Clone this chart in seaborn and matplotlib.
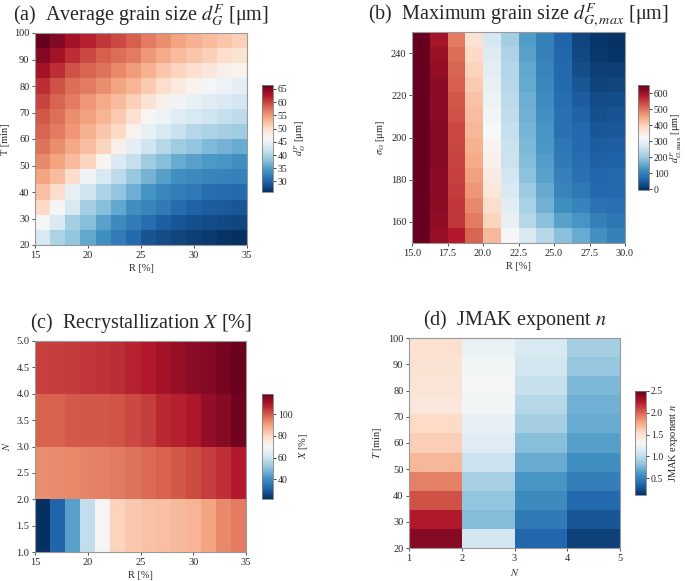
import numpy as np
import matplotlib
matplotlib.use("Agg")
import matplotlib.pyplot as plt
import seaborn as sns

# (a) average grain size d_G^F [um]; rows from T=100 (top) to T=20, cols R=15..35
grain_avg = np.array([
    [66.5, 64.9, 63.3, 62.0, 60.8, 59.6, 58.4, 56.8, 55.6, 54.4, 53.5, 52.7, 51.9, 51.1],
    [64.9, 63.3, 61.2, 59.6, 58.4, 57.6, 56.8, 55.2, 53.9, 52.7, 51.9, 51.1, 49.9, 49.1],
    [63.3, 61.2, 59.2, 58.0, 57.2, 56.0, 54.8, 53.5, 51.9, 50.7, 49.5, 48.5, 47.5, 47.1],
    [61.2, 59.2, 57.6, 56.8, 55.6, 54.4, 53.1, 51.5, 49.9, 48.3, 47.1, 45.8, 45.0, 44.2],
    [60.0, 58.0, 56.8, 55.2, 53.9, 52.7, 51.1, 49.1, 47.5, 45.4, 44.6, 43.8, 43.4, 42.6],
    [58.8, 57.4, 55.6, 54.6, 53.1, 51.5, 49.5, 46.5, 45.0, 43.8, 43.0, 42.2, 41.4, 41.0],
    [58.0, 56.8, 55.2, 53.5, 51.9, 50.3, 47.1, 44.6, 43.0, 41.8, 40.4, 39.8, 39.4, 39.0],
    [57.2, 55.6, 54.1, 52.5, 50.7, 47.5, 44.2, 42.2, 40.4, 39.0, 38.2, 37.3, 36.7, 36.1],
    [56.0, 54.4, 52.7, 50.7, 46.7, 43.4, 41.4, 39.0, 37.7, 36.1, 35.3, 34.7, 34.3, 33.9],
    [54.4, 52.5, 49.9, 45.4, 43.0, 41.0, 38.6, 36.7, 35.1, 33.9, 33.3, 32.9, 32.7, 32.5],
    [52.3, 49.9, 44.6, 42.2, 39.8, 38.2, 36.3, 34.1, 33.1, 32.3, 31.7, 30.9, 30.7, 30.5],
    [50.3, 45.8, 43.0, 39.4, 37.7, 35.7, 33.9, 32.9, 31.9, 30.7, 29.8, 29.4, 29.2, 29.0],
    [45.8, 43.4, 39.4, 37.7, 35.3, 33.3, 32.1, 30.9, 29.6, 29.0, 28.4, 28.2, 28.0, 27.8],
    [43.0, 39.8, 38.2, 35.7, 33.7, 32.1, 30.5, 28.8, 28.2, 27.6, 27.2, 26.8, 26.4, 26.0],
])

# (b) maximum grain size, one list per R column (15..30), values from sigma=250 down to 150
grain_max_cols = [
    [650, 650, 650, 650, 650, 650, 650, 650, 650, 650, 650, 650, 650, 650],
    [598, 607, 613, 617, 619, 621, 622, 622, 622, 621, 620, 618, 614, 610],
    [494, 507, 514, 520, 527, 533, 540, 543, 546, 549, 553, 556, 559, 585],
    [374, 390, 400, 410, 419, 426, 432, 439, 449, 458, 468, 481, 494, 514],
    [267, 280, 289, 299, 306, 315, 322, 332, 341, 351, 364, 380, 397, 429],
    [211, 221, 228, 231, 234, 241, 244, 250, 254, 263, 273, 286, 299, 319],
    [140, 146, 153, 156, 162, 166, 172, 176, 182, 189, 205, 218, 231, 270],
    [98, 101, 107, 111, 117, 124, 130, 133, 140, 146, 156, 166, 185, 231],
    [59, 62, 65, 68, 72, 75, 78, 85, 91, 101, 107, 120, 146, 185],
    [23, 26, 33, 42, 49, 59, 65, 68, 72, 78, 88, 104, 130, 159],
    [3, 7, 13, 20, 29, 36, 42, 49, 55, 62, 68, 81, 98, 124],
    [0, 2, 13, 23, 33, 39, 46, 52, 59, 65, 68, 75, 85, 101],
]
grain_max = np.array(grain_max_cols).T

# (c) recrystallization X [%]; rows N=4-5, 3-4, 2-3, 1-2; cols R=15..35
recryst = np.array([
    [103.1, 103.6, 104.1, 104.6, 105.0, 106.0, 107.4, 108.9, 110.8, 112.2, 113.7, 114.6, 116.6, 118.0],
    [98.8, 98.8, 99.8, 100.2, 100.2, 100.7, 102.2, 103.6, 106.5, 107.9, 109.4, 112.7, 114.2, 117.0],
    [92.6, 93.0, 93.5, 94.0, 94.5, 95.4, 96.4, 97.4, 98.8, 100.2, 101.7, 103.6, 105.5, 108.4],
    [22.0, 31.6, 44.1, 58.5, 71.0, 81.5, 83.4, 84.4, 84.9, 85.8, 86.8, 89.7, 93.5, 95.4],
])

# (d) JMAK exponent n; one list per N column (1-2 .. 4-5), values from T=100 down to 20
jmak_cols = [
    [1.50, 1.48, 1.47, 1.44, 1.54, 1.60, 1.70, 1.91, 2.07, 2.26, 2.39],
    [1.23, 1.27, 1.28, 1.27, 1.21, 1.16, 1.05, 0.91, 0.83, 0.79, 1.09],
    [1.11, 1.08, 1.03, 0.96, 0.90, 0.80, 0.70, 0.60, 0.54, 0.46, 0.36],
    [0.90, 0.84, 0.77, 0.73, 0.70, 0.65, 0.56, 0.48, 0.37, 0.28, 0.19],
]
jmak = np.array(jmak_cols).T

R_ticks = [15, 20, 25, 30, 35]
R_ticks_b = [15.0, 17.5, 20.0, 22.5, 25.0, 27.5, 30.0]
T_ticks = [20, 30, 40, 50, 60, 70, 80, 90, 100]
sigma_ticks = [160, 180, 200, 220, 240]
N_ticks_c = [1.0, 1.5, 2.0, 2.5, 3.0, 3.5, 4.0, 4.5, 5.0]
N_ticks_d = [1, 2, 3, 4, 5]

sns.set_style("ticks")
plt.rcParams["font.family"] = ["Liberation Serif", "DejaVu Serif"]
plt.rcParams["mathtext.fontset"] = "stix"

W, H = 685, 581
fig = plt.figure(figsize=(W / 100, H / 100), dpi=100)


def box(x0, y0, x1, y1):
    return [x0 / W, 1 - y1 / H, (x1 - x0) / W, (y1 - y0) / H]


def panel(data, ax_px, cax_px, xr, yr, xticks, yticks, xfmt, yfmt,
          vmin, vmax, cticks, title, xlabel, ylabel, clabel, cpad=3):
    ax = fig.add_axes(box(*ax_px))
    cax = fig.add_axes(box(*cax_px))
    sns.heatmap(data, ax=ax, cbar_ax=cax, cmap="RdBu_r", vmin=vmin, vmax=vmax,
                xticklabels=False, yticklabels=False)
    nr, nc = data.shape
    ax.set_xticks([(v - xr[0]) / (xr[1] - xr[0]) * nc for v in xticks])
    ax.set_xticklabels([xfmt.format(v) for v in xticks])
    ax.set_yticks([(yr[1] - v) / (yr[1] - yr[0]) * nr for v in yticks])
    ax.set_yticklabels([yfmt.format(v) for v in yticks], rotation=0)
    ax.tick_params(length=2.5, width=0.6, labelsize=7.5, pad=1.5, color="0.2")
    for s in ax.spines.values():
        s.set_visible(True)
        s.set_color("0.6")
        s.set_linewidth(0.8)
    ax.set_xlabel(xlabel, fontsize=7.5, labelpad=3)
    ax.set_ylabel(ylabel, fontsize=7.5, labelpad=3)
    ax.set_title(title, fontsize=14.5, pad=9)
    cb = ax.collections[0].colorbar
    cb.set_ticks(cticks)
    cb.ax.tick_params(labelsize=7, length=2.5, width=0.6, pad=1)
    cb.outline.set_visible(True)
    cb.outline.set_linewidth(0.6)
    cb.outline.set_edgecolor("0.5")
    cb.set_label(clabel, fontsize=7.5, labelpad=cpad)
    return ax


panel(grain_avg, (35, 33, 247, 245), (262, 85, 273, 192), (15, 35), (20, 100),
      R_ticks, T_ticks, "{}", "{}", 26, 66.5, [30, 35, 40, 45, 50, 55, 60, 65],
      "(a)  Average grain size $d_G^F$ [μm]", "R [%]", "T [min]", "$d_G^F$ [μm]")

panel(grain_max, (412, 32, 625, 243), (638, 85, 649, 190), (15, 30), (150, 250),
      R_ticks_b, sigma_ticks, "{:.1f}", "{}", -5, 652, [0, 100, 200, 300, 400, 500, 600],
      "(b)  Maximum grain size $d_{G,max}^F$ [μm]", "R [%]", r"$\sigma_G$ [μm]",
      r"$d_{G,\mathrm{max}}^F$ [μm]", cpad=0)

panel(recryst, (35, 341, 246, 552), (262, 394, 273, 499), (15, 35), (1, 5),
      R_ticks, N_ticks_c, "{}", "{:.1f}", 22, 118.5, [40, 60, 80, 100],
      "(c)  Recrystallization $X$ [%]", "R [%]", "$N$", "$X$ [%]")

panel(jmak, (409, 338, 620, 548), (635, 391, 646, 495), (1, 5), (20, 100),
      N_ticks_d, T_ticks, "{}", "{}", 0.11, 2.5, [0.5, 1.0, 1.5, 2.0, 2.5],
      "(d)  JMAK exponent $n$", "$N$", "$T$ [min]", "JMAK exponent $n$")

fig.savefig("out.png", dpi=100)
